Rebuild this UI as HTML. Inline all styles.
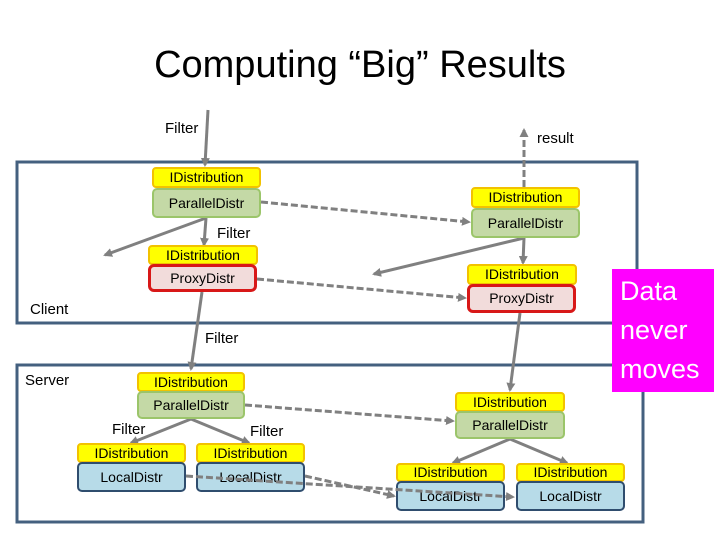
<!DOCTYPE html>
<html><head><meta charset="utf-8"><style>
body{margin:0;width:720px;height:540px;background:#fff;overflow:hidden;position:relative;font-family:"Liberation Sans",sans-serif;}
.t{position:absolute;font-size:15px;color:#000;white-space:nowrap}
.y{position:absolute;background:#ffff00;border:2px solid #f2c200;border-radius:4px;font-size:14px;text-align:center;box-sizing:border-box;line-height:16px}
.g{position:absolute;background:#c4d9a6;border:2px solid #9bc56a;border-radius:5px;font-size:14px;text-align:center;box-sizing:border-box}
.r{position:absolute;background:#f2dcdb;border:3px solid #d81818;border-radius:6px;font-size:14px;text-align:center;box-sizing:border-box}
.b{position:absolute;background:#b7dbe8;border:2px solid #2f4d6e;border-radius:5px;font-size:14px;text-align:center;box-sizing:border-box}
</style></head><body>
<div class="t" style="left:0;width:720px;text-align:center;top:44px;font-size:38px;">Computing “Big” Results</div>
<svg width="720" height="540" style="position:absolute;left:0;top:0">
<defs><marker id="a" markerWidth="9" markerHeight="9" refX="7" refY="4.5" orient="auto" markerUnits="userSpaceOnUse"><path d="M0,0 L9,4.5 L0,9 z" fill="#808080"/></marker></defs>
<rect x="17" y="162" width="620" height="161" fill="none" stroke="#44607f" stroke-width="3"/>
<rect x="17" y="365" width="626" height="157" fill="none" stroke="#44607f" stroke-width="3"/>
<g stroke="#808080" stroke-width="3" fill="none" marker-end="url(#a)">
<line x1="208" y1="110" x2="205" y2="165"/>
<line x1="206" y1="218" x2="204" y2="245"/>
<line x1="206" y1="218" x2="105" y2="255"/>
<line x1="524" y1="238" x2="523" y2="263"/>
<line x1="524" y1="238" x2="374" y2="274"/>
<line x1="202" y1="292" x2="191" y2="369"/>
<line x1="520" y1="313" x2="510" y2="390"/>
<line x1="191" y1="419" x2="131" y2="443"/>
<line x1="191" y1="419" x2="249" y2="443"/>
<line x1="510" y1="439" x2="453" y2="463"/>
<line x1="510" y1="439" x2="567" y2="463"/>
</g>
<g stroke="#808080" stroke-width="3" fill="none" stroke-dasharray="7,3" marker-end="url(#a)">
<line x1="524" y1="187" x2="524" y2="130"/>
<line x1="261" y1="202" x2="469" y2="222"/>
<line x1="257" y1="279" x2="465" y2="298"/>
<line x1="245" y1="405" x2="453" y2="421"/>
<line x1="305" y1="476" x2="394" y2="496"/>
</g>
</svg>
<div class="t" style="left:165px;top:120px">Filter</div>
<div class="t" style="left:537px;top:130px">result</div>
<div class="t" style="left:217px;top:225px">Filter</div>
<div class="t" style="left:30px;top:301px">Client</div>
<div class="t" style="left:205px;top:330px">Filter</div>
<div class="t" style="left:25px;top:372px">Server</div>
<div class="t" style="left:112px;top:421px">Filter</div>
<div class="t" style="left:250px;top:423px">Filter</div>

<div class="y" style="left:152px;top:167px;width:109px;height:21px">IDistribution</div>
<div class="g" style="left:152px;top:188px;width:109px;height:30px;line-height:26px">ParallelDistr</div>
<div class="y" style="left:148px;top:245px;width:110px;height:20px">IDistribution</div>
<div class="r" style="left:148px;top:264px;width:109px;height:28px;line-height:22px">ProxyDistr</div>

<div class="y" style="left:471px;top:187px;width:109px;height:21px">IDistribution</div>
<div class="g" style="left:471px;top:208px;width:109px;height:30px;line-height:26px">ParallelDistr</div>
<div class="y" style="left:467px;top:264px;width:110px;height:21px">IDistribution</div>
<div class="r" style="left:467px;top:284px;width:109px;height:29px;line-height:23px">ProxyDistr</div>

<div class="y" style="left:137px;top:372px;width:108px;height:20px">IDistribution</div>
<div class="g" style="left:137px;top:391px;width:108px;height:28px;line-height:24px">ParallelDistr</div>
<div class="y" style="left:77px;top:443px;width:109px;height:20px">IDistribution</div>
<div class="b" style="left:77px;top:462px;width:109px;height:30px;line-height:26px">LocalDistr</div>
<div class="y" style="left:196px;top:443px;width:109px;height:20px">IDistribution</div>
<div class="b" style="left:196px;top:462px;width:109px;height:30px;line-height:26px">LocalDistr</div>

<div class="y" style="left:455px;top:392px;width:110px;height:20px">IDistribution</div>
<div class="g" style="left:455px;top:411px;width:110px;height:28px;line-height:24px">ParallelDistr</div>
<div class="y" style="left:396px;top:463px;width:109px;height:19px;line-height:15px">IDistribution</div>
<div class="b" style="left:396px;top:481px;width:109px;height:30px;line-height:26px">LocalDistr</div>
<div class="y" style="left:516px;top:463px;width:109px;height:19px;line-height:15px">IDistribution</div>
<div class="b" style="left:516px;top:481px;width:109px;height:30px;line-height:26px">LocalDistr</div>

<svg width="720" height="540" style="position:absolute;left:0;top:0">
<defs><marker id="b2" markerWidth="9" markerHeight="9" refX="7" refY="4.5" orient="auto" markerUnits="userSpaceOnUse"><path d="M0,0 L9,4.5 L0,9 z" fill="#808080"/></marker></defs>
<line x1="186" y1="476" x2="513" y2="497" stroke="#808080" stroke-width="3" stroke-dasharray="7,3" marker-end="url(#b2)"/>
</svg>

<div style="position:absolute;left:612px;top:269px;width:102px;height:123px;background:#ff00ff;color:#fff;font-size:27px;line-height:39px;padding-left:8px;box-sizing:border-box;padding-top:3px">Data<br>never<br>moves</div>
</body></html>
